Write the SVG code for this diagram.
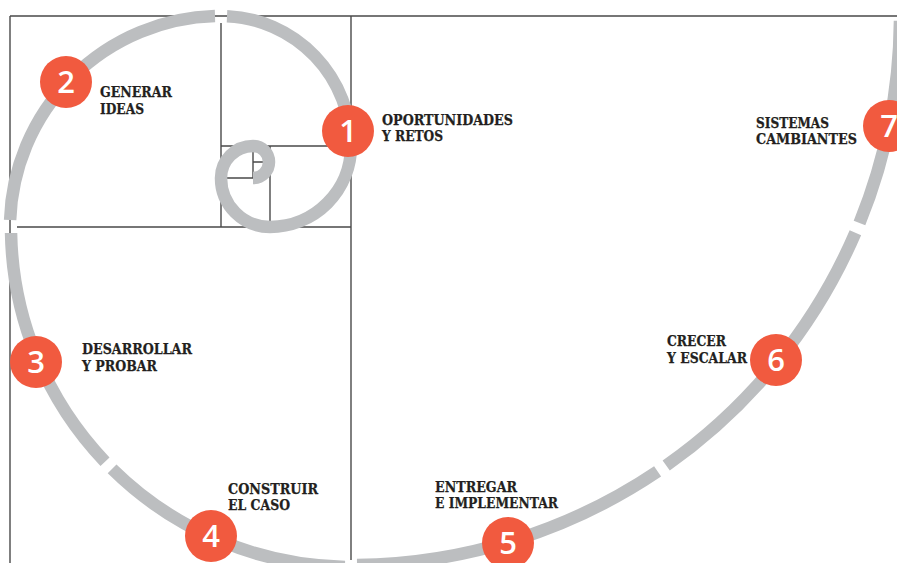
<svg xmlns="http://www.w3.org/2000/svg" width="897" height="563" viewBox="0 0 897 563">
<style>
.grid{stroke:#4a4a4a;stroke-width:1.4;fill:none}
.spiral{stroke:#bcbec0;stroke-width:12.5;fill:none;stroke-linecap:butt}
.dot{fill:#f15a3f}
.num{font-family:"Open Sans","DejaVu Sans",sans-serif;font-weight:600;font-size:31px;fill:#fff;text-anchor:middle}
.lbl{font-family:"DejaVu Serif","Liberation Serif",serif;font-weight:bold;font-size:14px;fill:#231f20;stroke:#231f20;stroke-width:0.25}
</style>
<rect width="897" height="563" fill="#fff"/>
<g id="grid">
<path class="grid" d="M10,16H897 M10,16V563 M351,16V560 M221,23V227 M17,227H351 M221,146H351 M270,146V227 M221,178H253 M253,146V178 M253,162H270"/>
</g>
<g id="connectors">
<path class="spiral" d="M899.98,20.8 A549,549 0 0 1 859.5,223.0"/>
<path class="spiral" d="M855.4,232.7 A549,549 0 0 1 666.2,465.5"/>
<path class="spiral" d="M657.6,471.4 A549,549 0 0 1 357,565"/>
<path class="spiral" d="M345,566.9 A340,340 0 0 1 112.1,468.9"/>
<path class="spiral" d="M105.0,461.7 A340,340 0 0 1 11.05,233"/>
<path class="spiral" d="M10.12,220 A211,211 0 0 1 215,16.09"/>
<path class="spiral" d="M227,16.14 A130,130 0 0 1 351,146 A81,81 0 0 1 270,227 A49,49 0 0 1 221,178 A32,32 0 0 1 253,146 A16,16 0 0 1 269,162 A16,16 0 0 1 253,178"/>
</g>
<g id="node1">
<circle class="dot" cx="348" cy="131" r="26"/>
<text class="num" x="348" y="142">1</text>
<text class="lbl" x="382" y="125" textLength="131" lengthAdjust="spacingAndGlyphs">OPORTUNIDADES</text>
<text class="lbl" x="382" y="141" textLength="61" lengthAdjust="spacingAndGlyphs">Y RETOS</text>
</g>
<g id="node2">
<circle class="dot" cx="66" cy="82" r="26"/>
<text class="num" x="66" y="93">2</text>
<text class="lbl" x="100" y="97" textLength="72" lengthAdjust="spacingAndGlyphs">GENERAR</text>
<text class="lbl" x="100" y="114" textLength="44" lengthAdjust="spacingAndGlyphs">IDEAS</text>
</g>
<g id="node3">
<circle class="dot" cx="36" cy="362" r="26"/>
<text class="num" x="36" y="373">3</text>
<text class="lbl" x="82" y="354" textLength="110" lengthAdjust="spacingAndGlyphs">DESARROLLAR</text>
<text class="lbl" x="82" y="371" textLength="75" lengthAdjust="spacingAndGlyphs">Y PROBAR</text>
</g>
<g id="node4">
<circle class="dot" cx="211" cy="536" r="26"/>
<text class="num" x="211" y="547">4</text>
<text class="lbl" x="228" y="494" textLength="90" lengthAdjust="spacingAndGlyphs">CONSTRUIR</text>
<text class="lbl" x="228" y="510" textLength="62" lengthAdjust="spacingAndGlyphs">EL CASO</text>
</g>
<g id="node5">
<circle class="dot" cx="508" cy="543" r="26"/>
<text class="num" x="508" y="554">5</text>
<text class="lbl" x="435" y="492" textLength="82" lengthAdjust="spacingAndGlyphs">ENTREGAR</text>
<text class="lbl" x="435" y="508" textLength="123" lengthAdjust="spacingAndGlyphs">E IMPLEMENTAR</text>
</g>
<g id="node6">
<circle class="dot" cx="776" cy="360" r="26"/>
<text class="num" x="776" y="371">6</text>
<text class="lbl" x="667" y="346" textLength="59" lengthAdjust="spacingAndGlyphs">CRECER</text>
<text class="lbl" x="667" y="363" textLength="80" lengthAdjust="spacingAndGlyphs">Y ESCALAR</text>
</g>
<g id="node7">
<circle class="dot" cx="889" cy="126" r="26"/>
<text class="num" x="889" y="137">7</text>
<text class="lbl" x="756" y="128" textLength="73" lengthAdjust="spacingAndGlyphs">SISTEMAS</text>
<text class="lbl" x="756" y="144" textLength="101" lengthAdjust="spacingAndGlyphs">CAMBIANTES</text>
</g>
</svg>
